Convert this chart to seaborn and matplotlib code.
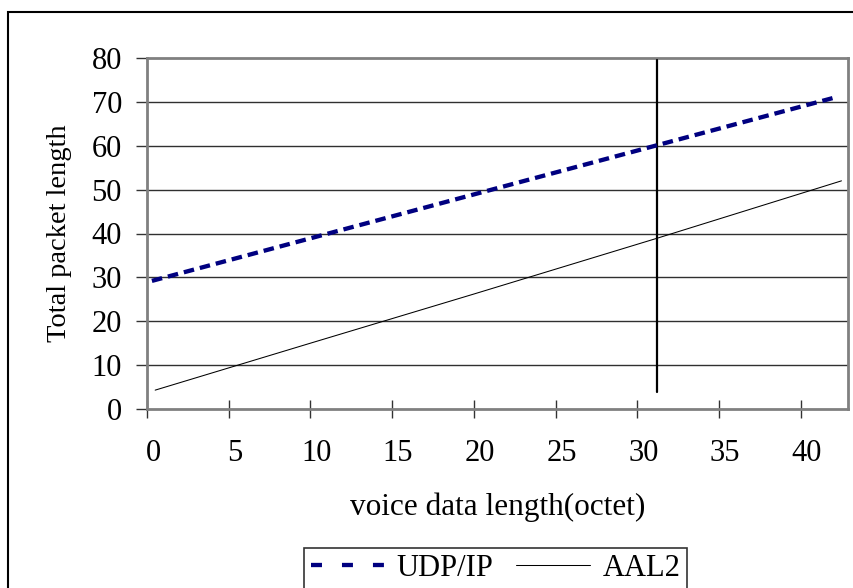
import matplotlib
matplotlib.use("Agg")
import matplotlib.pyplot as plt
import seaborn as sns
import pandas as pd
from matplotlib.lines import Line2D
from matplotlib.patches import Rectangle
import matplotlib.transforms as mtransforms

# ---- data ----
udp_x = [0.3, 10.0, 20.0, 31.2, 42.3]
udp_y = [29.2, 38.9, 48.9, 60.1, 71.2]
aal2_x = [0.5, 10.0, 20.0, 31.2, 42.5]
aal2_y = [4.3, 15.0, 26.2, 38.9, 52.0]
marker_x = [31.2, 31.2]
marker_y = [3.9, 79.5]
x_ticks = [0, 5, 10, 15, 20, 25, 30, 35, 40]
y_ticks = [0, 10, 20, 30, 40, 50, 60, 70, 80]
series_names = ["UDP/IP", "AAL2"]

sns.set_theme(style="white")
plt.rcParams["font.family"] = ["Liberation Serif", "DejaVu Serif"]
plt.rcParams["text.color"] = "black"
plt.rcParams["axes.labelcolor"] = "black"
plt.rcParams["xtick.color"] = "black"
plt.rcParams["ytick.color"] = "black"
plt.rcParams["lines.scale_dashes"] = False

W, H = 854, 588
fig = plt.figure(figsize=(W / 100, H / 100), dpi=100)
ax = fig.add_axes([147 / W, 1 - 409 / H, (848 - 147) / W, (409 - 58) / H])

df_udp = pd.DataFrame({"x": udp_x, "y": udp_y})
df_aal = pd.DataFrame({"x": aal2_x, "y": aal2_y})
df_mark = pd.DataFrame({"x": marker_x, "y": marker_y})

sns.lineplot(data=df_aal, x="x", y="y", ax=ax, color="black", lw=0.75,
             sort=False, estimator=None, zorder=3)
sns.lineplot(data=df_mark, x="x", y="y", ax=ax, color="black", lw=1.6,
             sort=False, estimator=None, zorder=4)
sns.lineplot(data=df_udp, x="x", y="y", ax=ax, color="#000080", lw=3.1,
             sort=False, estimator=None, zorder=5)
ax.lines[-1].set_linestyle((0, (7.6, 4.3)))
ax.lines[-1].set_dash_capstyle("butt")

ax.set_xlim(0, 42.9)
ax.set_ylim(0, 80)
ax.set_xticks(x_ticks)
ax.set_yticks(y_ticks)
ax.set_xticklabels([str(v) for v in x_ticks])
ax.set_yticklabels([str(v) for v in y_ticks])

# gridlines
for yv in y_ticks[1:-1]:
    ax.axhline(yv, color="#303030", lw=1.0, zorder=1)

for s in ax.spines.values():
    s.set_color("#808080")
    s.set_linewidth(2.0)
    s.set_visible(True)

ax.tick_params(axis="x", which="major", direction="inout", length=13,
               width=1.0, color="#333333", labelsize=22, pad=15,
               bottom=True, labelcolor="black")
ax.tick_params(axis="y", which="major", direction="out", length=8,
               width=1.0, color="#333333", labelsize=22, pad=10, left=True,
               labelcolor="black")
offset = mtransforms.ScaledTranslation(6 / 100, 0, fig.dpi_scale_trans)
for lab in ax.get_xticklabels():
    lab.set_transform(lab.get_transform() + offset)

ax.set_xlabel("voice data length(octet)", fontsize=22.5, labelpad=18,
              color="black")
ax.set_ylabel("Total packet length", fontsize=20.5, labelpad=14,
              color="black")

# legend
handles = [
    Line2D([], [], color="#000080", lw=3.1, linestyle=(0, (7.9, 14.4)),
           dash_capstyle="butt"),
    Line2D([], [], color="black", lw=0.75),
]
leg = fig.legend(handles, series_names, loc="upper center",
                 bbox_to_anchor=(495.5 / W, 1 - 548 / H), ncol=2,
                 fontsize=22, frameon=True, fancybox=False, shadow=False,
                 handlelength=2.4, handletextpad=0.42, columnspacing=0.75,
                 borderpad=0.2, borderaxespad=0.0)
leg.get_frame().set_edgecolor("black")
leg.get_frame().set_linewidth(1.2)
for t in leg.get_texts():
    t.set_color("black")

# outer chart border (extends beyond the image on right/bottom)
fig.add_artist(Rectangle((8 / W, -0.5), 2.0, 1 - 12 / H + 0.5,
                         transform=fig.transFigure, fill=False,
                         edgecolor="black", lw=1.5, clip_on=False))

fig.savefig("out.png", dpi=100)
